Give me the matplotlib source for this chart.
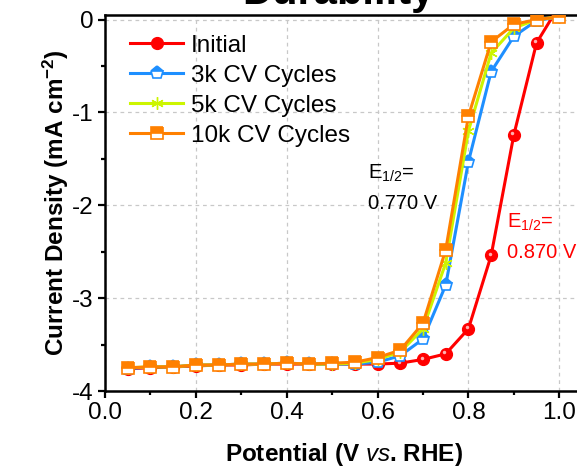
import matplotlib

matplotlib.use("Agg")
import matplotlib.pyplot as plt  # noqa: E402
import matplotlib.transforms as mtransforms  # noqa: E402
from matplotlib.ticker import MultipleLocator  # noqa: E402

plt.rcParams["font.family"] = ["Liberation Sans", "DejaVu Sans"]
plt.rcParams["mathtext.fontset"] = "custom"
plt.rcParams["mathtext.rm"] = "Liberation Sans"
plt.rcParams["mathtext.it"] = "Liberation Sans:italic"
plt.rcParams["mathtext.bf"] = "Liberation Sans:bold"

# potential (V vs. RHE)
potential = [0.05, 0.10, 0.15, 0.20, 0.25, 0.30, 0.35, 0.40, 0.45, 0.50,
             0.55, 0.60, 0.65, 0.70, 0.75, 0.80, 0.85, 0.90, 0.95, 1.00]

# current density (mA cm^-2)
initial = [-3.76, -3.75, -3.74, -3.73, -3.72, -3.72, -3.71, -3.71, -3.71, -3.71,
           -3.71, -3.71, -3.70, -3.66, -3.60, -3.33, -2.54, -1.24, -0.25, 0.15]
cv_3k = [-3.76, -3.74, -3.74, -3.72, -3.72, -3.71, -3.71, -3.70, -3.71, -3.71,
         -3.71, -3.69, -3.62, -3.44, -2.86, -1.53, -0.56, -0.18, -0.01, 0.03]
cv_5k = [-3.75, -3.74, -3.74, -3.72, -3.72, -3.71, -3.71, -3.70, -3.71, -3.71,
         -3.70, -3.66, -3.58, -3.33, -2.62, -1.20, -0.36, -0.09, 0.0, 0.03]
cv_10k = [-3.75, -3.74, -3.74, -3.72, -3.72, -3.71, -3.71, -3.70, -3.71, -3.70,
          -3.69, -3.64, -3.56, -3.27, -2.48, -1.04, -0.24, -0.05, 0.0, 0.03]

labels = ["Initial", "3k CV Cycles", "5k CV Cycles", "10k CV Cycles"]
e_half_cv = "0.770 V"
e_half_init = "0.870 V"

RED = "#ff0000"
BLUE = "#1e8fff"
YELLOW = "#ccf500"
ORANGE = "#ff8000"

fig = plt.figure(figsize=(5.77, 4.68), dpi=100)
ax = fig.add_axes([105 / 577, 77 / 468, 477 / 577, 376 / 468])

lw = 2.2
ax.plot(potential, initial, color=RED, lw=lw, marker="o", ms=8.5,
        mfc=RED, mec=RED, label=labels[0], zorder=3)
# small highlight on the red balls
hl = mtransforms.offset_copy(ax.transData, fig=fig, x=-1.5, y=1.5, units="dots")
ax.plot(potential, initial, ls="none", marker="o", ms=2.5, mfc="#ffb0b0",
        mec="none", transform=hl, zorder=3)
ax.plot(potential, cv_3k, color=BLUE, lw=lw, marker="p", ms=9.5,
        fillstyle="top", mfc=BLUE, mfcalt="white", mec=BLUE, mew=1.2,
        label=labels[1], zorder=4)
ax.plot(potential, cv_5k, color=YELLOW, lw=lw, marker=(6, 2, 0), ms=9,
        mec=YELLOW, mew=1.0, label=labels[2], zorder=5)
ax.plot(potential, cv_10k, color=ORANGE, lw=lw, marker="s", ms=8.5,
        fillstyle="top", mfc=ORANGE, mfcalt="white", mec=ORANGE, mew=1.2,
        label=labels[3], zorder=6)

ax.set_xlim(0, 1.05)
ax.set_ylim(-4, 0.05)
ax.xaxis.set_major_locator(MultipleLocator(0.2))
ax.xaxis.set_minor_locator(MultipleLocator(0.1))
ax.yaxis.set_major_locator(MultipleLocator(1))
ax.yaxis.set_minor_locator(MultipleLocator(0.5))
ax.xaxis.set_major_formatter(plt.FuncFormatter(lambda v, p: f"{v:.1f}"))
ax.yaxis.set_major_formatter(plt.FuncFormatter(lambda v, p: f"{v:.0f}".replace("\u2212", "-")))

ax.tick_params(which="major", direction="out", length=5, width=1.6,
               labelsize=17.5, pad=3)
ax.tick_params(which="minor", direction="out", length=3, width=1.6)
ax.tick_params(top=False, right=False)
for s in ax.spines.values():
    s.set_linewidth(1.8)

ax.grid(True, which="major", ls=(0, (3, 3)), color="#c8c8c8", lw=0.9)
ax.set_axisbelow(True)

ax.set_xlabel(r"Potential (V $\mathbf{\mathit{vs}}$. RHE)", fontsize=17.5,
              fontweight="bold", labelpad=12)
ax.set_ylabel(r"Current Density (mA cm$^{\mathbf{-2}}$)", fontsize=17.5,
              fontweight="bold", labelpad=1)

ax.text(0.578, -1.81, "E$_{1/2}$=\n" + e_half_cv, fontsize=14.5, color="black",
        va="center", ha="left", linespacing=1.7)
ax.text(0.884, -2.34, "E$_{1/2}$=\n" + e_half_init, fontsize=14.5, color=RED,
        va="center", ha="left", linespacing=1.7)

ax.legend(loc="upper left", bbox_to_anchor=(0.052, 0.948), frameon=False,
          fontsize=17.5, handlelength=2.2, handletextpad=0.3,
          labelspacing=0.33, borderpad=0, borderaxespad=0)

fig.text(338 / 577, 1 - 4 / 468, "Durability", fontsize=30, fontweight="bold",
         ha="center", va="baseline")

fig.savefig("out.png", dpi=100)
